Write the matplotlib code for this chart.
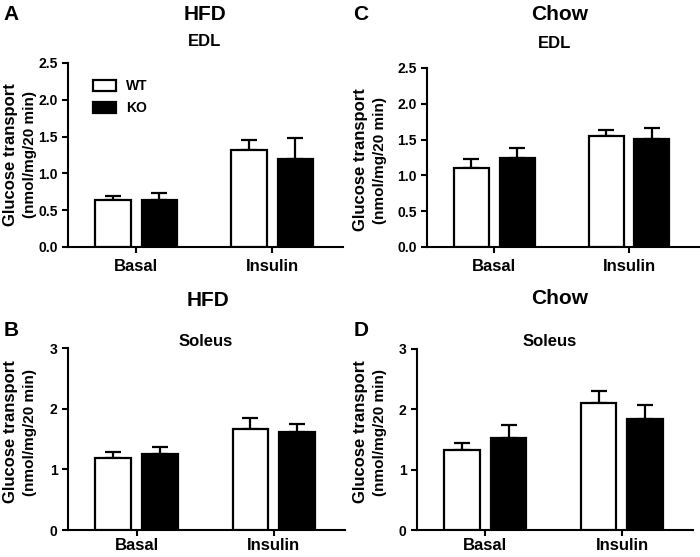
import numpy as np
import matplotlib
matplotlib.use("Agg")
import matplotlib.pyplot as plt

plt.rcParams['font.family'] = ['Liberation Sans', 'DejaVu Sans']
plt.rcParams['font.weight'] = 'bold'

groups = ['Basal', 'Insulin']

hfd_edl_wt = [0.64, 1.32]
hfd_edl_wt_err = [0.05, 0.14]
hfd_edl_ko = [0.64, 1.20]
hfd_edl_ko_err = [0.10, 0.28]

chow_edl_wt = [1.10, 1.55]
chow_edl_wt_err = [0.13, 0.09]
chow_edl_ko = [1.24, 1.51]
chow_edl_ko_err = [0.14, 0.15]

hfd_sol_wt = [1.19, 1.67]
hfd_sol_wt_err = [0.10, 0.18]
hfd_sol_ko = [1.26, 1.61]
hfd_sol_ko_err = [0.10, 0.14]

chow_sol_wt = [1.32, 2.11]
chow_sol_wt_err = [0.12, 0.19]
chow_sol_ko = [1.52, 1.84]
chow_sol_ko_err = [0.22, 0.24]

W, H = 700, 557
fig = plt.figure(figsize=(7, 5.57), dpi=100)


def px(x, y):
    return x / W, 1 - y / H


def make_ax(left, top, right, bottom):
    return fig.add_axes([left / W, 1 - bottom / H, (right - left) / W, (bottom - top) / H])


def draw(ax, wt, wt_err, ko, ko_err, ymax, yticks, fmt, xpad=5):
    x = np.arange(len(groups))
    off, w = 0.17, 0.26
    ax.bar(x - off, wt, w, color='white', edgecolor='black', linewidth=1.6, label='WT', zorder=3)
    ax.bar(x + off, ko, w, color='black', edgecolor='black', linewidth=1.6, label='KO', zorder=3)
    for xs, v, e in [(x - off, wt, wt_err), (x + off, ko, ko_err)]:
        ax.errorbar(xs, v, yerr=[np.zeros(len(e)), e], fmt='none', ecolor='black',
                    elinewidth=1.6, capsize=5.5, capthick=1.6, zorder=2)
    ax.set_xlim(-0.5, 1.52)
    ax.set_ylim(0, ymax)
    ax.set_xticks(x)
    ax.set_xticklabels(groups, fontsize=12, fontweight='bold')
    ax.set_yticks(yticks)
    ax.set_yticklabels([fmt.format(t) for t in yticks], fontsize=10, fontweight='bold')
    for s in ['top', 'right']:
        ax.spines[s].set_visible(False)
    for s in ['left', 'bottom']:
        ax.spines[s].set_linewidth(1.5)
    ax.tick_params(width=1.5, length=4)
    ax.tick_params(axis='x', pad=xpad)


def ylabel(xc, yc):
    fig.text(*px(xc, yc), 'Glucose transport', rotation=90, fontsize=12,
             fontweight='bold', ha='center', va='center')
    fig.text(*px(xc + 19, yc), '(nmol/mg/20 min)', rotation=90, fontsize=11,
             fontweight='bold', ha='center', va='center')


axA = make_ax(68, 63, 343, 247)
draw(axA, hfd_edl_wt, hfd_edl_wt_err, hfd_edl_ko, hfd_edl_ko_err,
     2.5, [0, 0.5, 1.0, 1.5, 2.0, 2.5], '{:.1f}')
axA.legend(loc='upper left', bbox_to_anchor=(0.065, 0.95), frameon=False,
           prop={'size': 10, 'weight': 'bold'}, handlelength=1.7, handleheight=0.8,
           handletextpad=0.7, labelspacing=0.6, borderpad=0)

axC = make_ax(427, 68, 699, 247)
draw(axC, chow_edl_wt, chow_edl_wt_err, chow_edl_ko, chow_edl_ko_err,
     2.5, [0, 0.5, 1.0, 1.5, 2.0, 2.5], '{:.1f}')

axB = make_ax(68, 348, 345, 530)
draw(axB, hfd_sol_wt, hfd_sol_wt_err, hfd_sol_ko, hfd_sol_ko_err,
     3, [0, 1, 2, 3], '{:d}', xpad=2)

axD = make_ax(417, 349, 693, 530)
draw(axD, chow_sol_wt, chow_sol_wt_err, chow_sol_ko, chow_sol_ko_err,
     3, [0, 1, 2, 3], '{:d}', xpad=2)

ylabel(11, 155)
ylabel(361, 160)
ylabel(11, 432)
ylabel(361, 432)

# titles
fig.text(*px(205, 15), 'HFD', fontsize=15, fontweight='bold', ha='center', va='center')
fig.text(*px(205, 42), 'EDL', fontsize=12, fontweight='bold', ha='center', va='center')
fig.text(*px(560, 14), 'Chow', fontsize=15, fontweight='bold', ha='center', va='center')
fig.text(*px(555, 44), 'EDL', fontsize=12, fontweight='bold', ha='center', va='center')
fig.text(*px(208, 300), 'HFD', fontsize=15, fontweight='bold', ha='center', va='center')
fig.text(*px(206, 342), 'Soleus', fontsize=12, fontweight='bold', ha='center', va='center')
fig.text(*px(560, 298), 'Chow', fontsize=15, fontweight='bold', ha='center', va='center')
fig.text(*px(550, 342), 'Soleus', fontsize=12, fontweight='bold', ha='center', va='center')

# panel letters
fig.text(*px(11, 14), 'A', fontsize=15, fontweight='bold', ha='center', va='center')
fig.text(*px(361, 14), 'C', fontsize=15, fontweight='bold', ha='center', va='center')
fig.text(*px(11, 331), 'B', fontsize=15, fontweight='bold', ha='center', va='center')
fig.text(*px(361, 331), 'D', fontsize=15, fontweight='bold', ha='center', va='center')

fig.savefig('out.png', dpi=100)
